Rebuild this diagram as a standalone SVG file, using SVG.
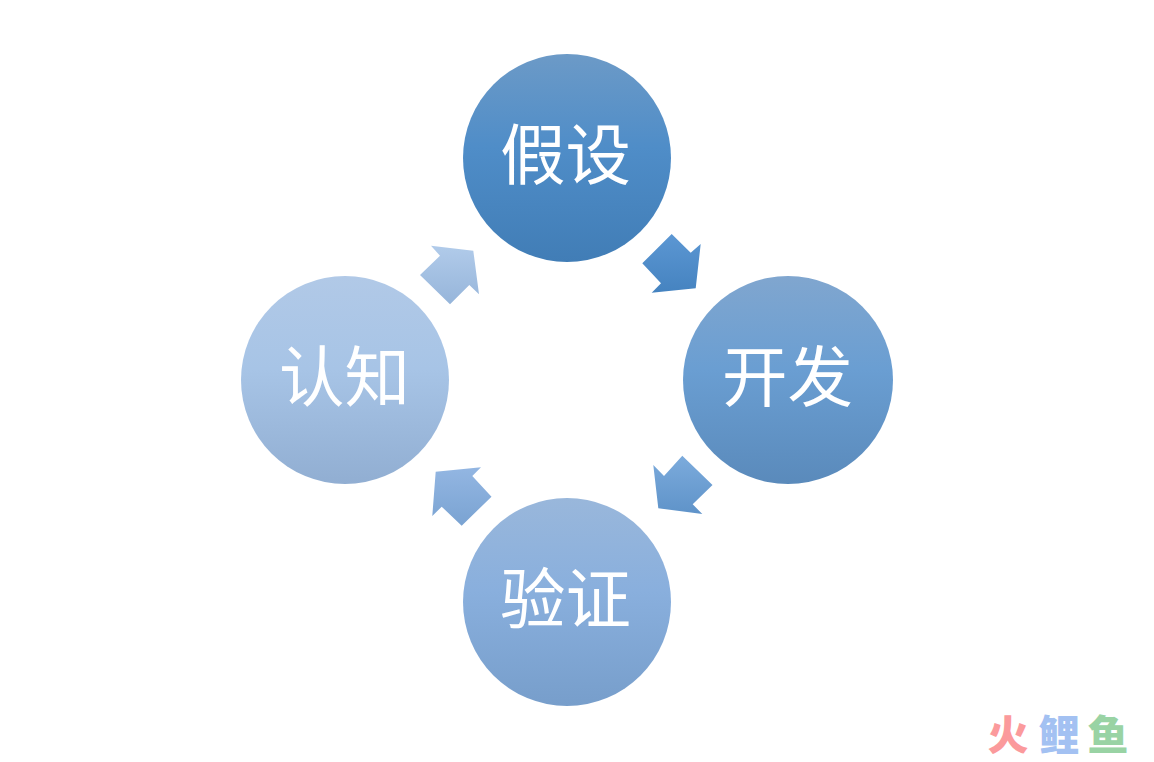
<svg xmlns="http://www.w3.org/2000/svg" width="1154" height="762" viewBox="0 0 1154 762">
<defs>
<linearGradient id="g1" x1="0" y1="0" x2="0" y2="1"><stop offset="0" stop-color="#6c9ac7"/><stop offset="0.45" stop-color="#4f8dc8"/><stop offset="1" stop-color="#417db6"/></linearGradient>
<linearGradient id="g2" x1="0" y1="0" x2="0" y2="1"><stop offset="0" stop-color="#80a6cf"/><stop offset="0.45" stop-color="#6a9ed2"/><stop offset="1" stop-color="#5a8abb"/></linearGradient>
<linearGradient id="g3" x1="0" y1="0" x2="0" y2="1"><stop offset="0" stop-color="#99b7db"/><stop offset="0.45" stop-color="#89afdd"/><stop offset="1" stop-color="#779ecb"/></linearGradient>
<linearGradient id="g4" x1="0" y1="0" x2="0" y2="1"><stop offset="0" stop-color="#b1c9e7"/><stop offset="0.45" stop-color="#a7c4e6"/><stop offset="1" stop-color="#91aed2"/></linearGradient>
<linearGradient id="a1" x1="0" y1="0" x2="0" y2="1"><stop offset="0" stop-color="#5c97d3"/><stop offset="1" stop-color="#4583c0"/></linearGradient>
<linearGradient id="a2" x1="0" y1="0" x2="0" y2="1"><stop offset="0" stop-color="#7cabdc"/><stop offset="1" stop-color="#5f93c9"/></linearGradient>
<linearGradient id="a3" x1="0" y1="0" x2="0" y2="1"><stop offset="0" stop-color="#93b6e2"/><stop offset="1" stop-color="#7aa3d2"/></linearGradient>
<linearGradient id="a4" x1="0" y1="0" x2="0" y2="1"><stop offset="0" stop-color="#b1cbea"/><stop offset="1" stop-color="#96b5da"/></linearGradient>
</defs>
<style>
.t{font-family:"Noto Sans CJK SC","Liberation Sans",sans-serif;font-size:65.5px;fill:#fff;text-anchor:middle;font-weight:400}
.w{font-family:"Noto Sans CJK SC","Liberation Sans",sans-serif;font-size:41px;font-weight:900;text-anchor:middle}
</style>
<rect width="1154" height="762" fill="#fff"/>
<g id="connectors">
<polygon fill="url(#a1)" points="671.7,234 690.7,252.7 700.7,244 695.7,288.3 651.7,292.7 661,283.3 642.3,263.3"/>
<polygon fill="url(#a2)" points="653.3,465 664,476 682.3,455.7 712.5,485 692.7,504.3 702.3,514 658.3,508.3"/>
<polygon fill="url(#a3)" points="481,467.3 472.3,476 491.5,496.7 461.7,525.7 441.7,506.7 432.3,516 435.7,471.7"/>
<polygon fill="url(#a4)" points="431,245.7 473.3,250.7 479,294.3 469.3,285 450,304.3 420,275 440,255.7"/>
</g>
<g id="node-hypothesis"><circle cx="567" cy="158" r="104" fill="url(#g1)"/><text class="t" x="565.500" y="179">假设</text></g>
<g id="node-develop"><ellipse cx="788" cy="380" rx="105" ry="104" fill="url(#g2)"/><text class="t" x="787.500" y="401">开发</text></g>
<g id="node-verify"><circle cx="567" cy="602" r="104" fill="url(#g3)"/><text class="t" x="565.500" y="623">验证</text></g>
<g id="node-cognition"><circle cx="345" cy="380" r="104" fill="url(#g4)"/><text class="t" x="344.500" y="401">认知</text></g>
<g id="watermark">
<text class="w" x="1008" y="750" fill="#fb9a9c">火</text>
<text class="w" x="1059" y="750" fill="#a3c1f2">鲤</text>
<text class="w" x="1108" y="750" fill="#99d3a4">鱼</text>
</g>
</svg>
